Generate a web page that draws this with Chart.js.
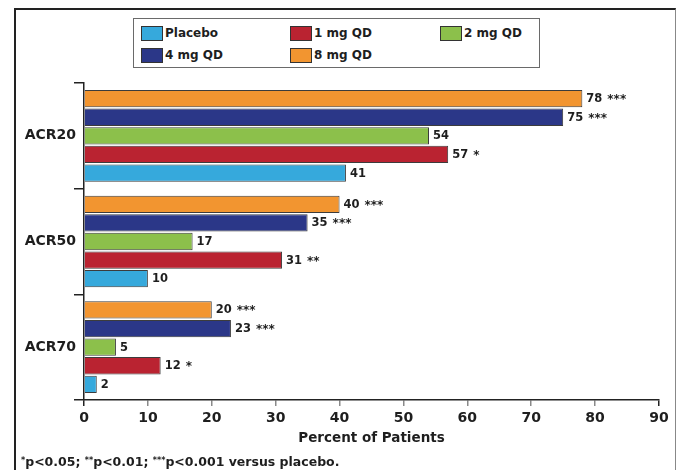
<!DOCTYPE html>
<html>
<head>
<meta charset="utf-8">
<script src="https://cdn.jsdelivr.net/npm/chart.js@4"></script>
<style>
  html, body { margin: 0; padding: 0; background: #ffffff; }
  #wrap { position: relative; width: 678px; height: 470px; overflow: hidden; font-family: "DejaVu Sans", sans-serif; }
  #frame { position: absolute; left: 14px; top: 8px; width: 662px; height: 480px;
           border-top: 2px solid #222; border-left: 2px solid #222; border-right: 1px solid #888; box-sizing: border-box; }
  canvas { position: absolute; left: 0; top: 0; }
  #legend { position: absolute; left: 133px; top: 18px; width: 407px; height: 50px;
            border: 1px solid #6a6a6a; box-sizing: border-box; background: #fff; }
  .item { position: absolute; height: 15px; font-weight: bold; font-size: 12px; color: #1e1e1e; line-height: 15px; white-space: nowrap; }
  .swatch { position: absolute; left: 0; top: 0; width: 22px; height: 15px; border: 1px solid #333; box-sizing: border-box; }
  .item span.txt { position: absolute; left: 24px; top: 0; }
  #note { position: absolute; left: 21px; top: 454px; font-weight: bold; font-size: 12.5px; color: #1e1e1e; white-space: nowrap; }
  #note sup { font-size: 8px; vertical-align: 3px; }
</style>
</head>
<body>
<div id="wrap">
  <div id="frame"></div>
  <canvas id="c" width="678" height="470"></canvas>
  <div id="legend"></div>
  <div id="note"><sup>*</sup>p&lt;0.05; <sup>**</sup>p&lt;0.01; <sup>***</sup>p&lt;0.001 versus placebo.</div>
</div>
<script>
// Response rates (% of patients) by endpoint and dose group
const categories = ['ACR20', 'ACR50', 'ACR70'];
const placebo = [41, 10, 2];
const mg1 = [57, 31, 12];
const mg2 = [54, 17, 5];
const mg4 = [75, 35, 23];
const mg8 = [78, 40, 20];

// Significance markers versus placebo
const placeboSig = ['', '', ''];
const mg1Sig = ['*', '**', '*'];
const mg2Sig = ['', '', ''];
const mg4Sig = ['***', '***', '***'];
const mg8Sig = ['***', '***', '***'];

const xTicks = [0, 10, 20, 30, 40, 50, 60, 70, 80, 90];

const groups = [
  { label: 'Placebo',  data: placebo, sig: placeboSig, color: '#36a9dc' },
  { label: '1 mg QD',  data: mg1,     sig: mg1Sig,     color: '#ba2331' },
  { label: '2 mg QD',  data: mg2,     sig: mg2Sig,     color: '#8cc04b' },
  { label: '4 mg QD',  data: mg4,     sig: mg4Sig,     color: '#2b3788' },
  { label: '8 mg QD',  data: mg8,     sig: mg8Sig,     color: '#f29530' }
];

// Highest dose is drawn first so it sits at the top of each group
const datasets = groups.slice().reverse().map(g => ({
  label: g.label,
  data: g.data,
  sig: g.sig,
  backgroundColor: g.color,
  borderColor: '#3c3c3c',
  borderWidth: 1,
  categoryPercentage: 0.88,
  barPercentage: 0.93
}));

// Value and significance labels at the end of each bar
const barLabels = {
  id: 'barLabels',
  afterDatasetsDraw(chart) {
    const ctx = chart.ctx;
    ctx.save();
    chart.data.datasets.forEach((ds, i) => {
      const meta = chart.getDatasetMeta(i);
      meta.data.forEach((bar, j) => {
        const txt = String(ds.data[j]);
        const x = bar.x + 4;
        const y = bar.y;
        ctx.fillStyle = '#1e1e1e';
        ctx.font = 'bold 11.5px "DejaVu Sans"';
        ctx.textAlign = 'left';
        ctx.textBaseline = 'middle';
        ctx.fillText(txt, x, y + 0.5);
        const s = ds.sig[j];
        if (s) {
          const w = ctx.measureText(txt).width;
          ctx.font = 'bold 12px "DejaVu Sans"';
          ctx.textBaseline = 'alphabetic';
          ctx.fillText(s, x + w + 5, y + 4.5);
        }
      });
    });
    ctx.restore();
  }
};

const chart = new Chart(document.getElementById('c'), {
  type: 'bar',
  data: { labels: categories, datasets },
  options: {
    indexAxis: 'y',
    responsive: false,
    animation: false,
    layout: { padding: { top: 83, right: 19, bottom: 22, left: 0 } },
    plugins: {
      legend: { display: false },
      tooltip: { enabled: false }
    },
    scales: {
      x: {
        type: 'linear',
        min: 0,
        max: 90,
        afterBuildTicks(scale) { scale.ticks = xTicks.map(v => ({ value: v })); },
        afterFit(scale) { scale.height = 48; },
        border: { display: true, color: '#222', width: 1.5 },
        grid: {
          drawOnChartArea: false,
          drawTicks: true,
          tickLength: 6,
          lineWidth: 1.5,
          color: ctx => (ctx.index === 0 || ctx.index === xTicks.length - 1) ? '#222' : '#8a8a8a'
        },
        ticks: {
          padding: 4,
          color: '#1e1e1e',
          font: { family: 'DejaVu Sans', weight: 'bold', size: 14 }
        },
        title: {
          display: true,
          text: 'Percent of Patients',
          color: '#1e1e1e',
          padding: { top: 0, bottom: 1 },
          font: { family: 'DejaVu Sans', weight: 'bold', size: 13.5 }
        }
      },
      y: {
        type: 'category',
        offset: true,
        afterFit(scale) { scale.width = 84; },
        border: { display: true, color: '#222', width: 1.5 },
        grid: {
          offset: true,
          drawOnChartArea: false,
          drawTicks: true,
          tickLength: 10,
          lineWidth: 1.5,
          color: '#222'
        },
        ticks: {
          padding: -2,
          color: '#1e1e1e',
          font: { family: 'DejaVu Sans', weight: 'bold', size: 14 }
        }
      }
    }
  },
  plugins: [barLabels]
});

// Legend in a three-column grid, built from the chart's datasets
const legendPos = [
  [140, 25], [289, 25], [439, 25],
  [140, 47], [289, 47]
];
const legendEl = document.getElementById('legend');
groups.forEach((g, k) => {
  const item = document.createElement('div');
  item.className = 'item';
  item.style.left = (legendPos[k][0] - 133) + 'px';
  item.style.top = (legendPos[k][1] - 18) + 'px';
  const sw = document.createElement('div');
  sw.className = 'swatch';
  sw.style.background = g.color;
  const t = document.createElement('span');
  t.className = 'txt';
  t.textContent = g.label;
  item.appendChild(sw);
  item.appendChild(t);
  legendEl.appendChild(item);
});
</script>
</body>
</html>
